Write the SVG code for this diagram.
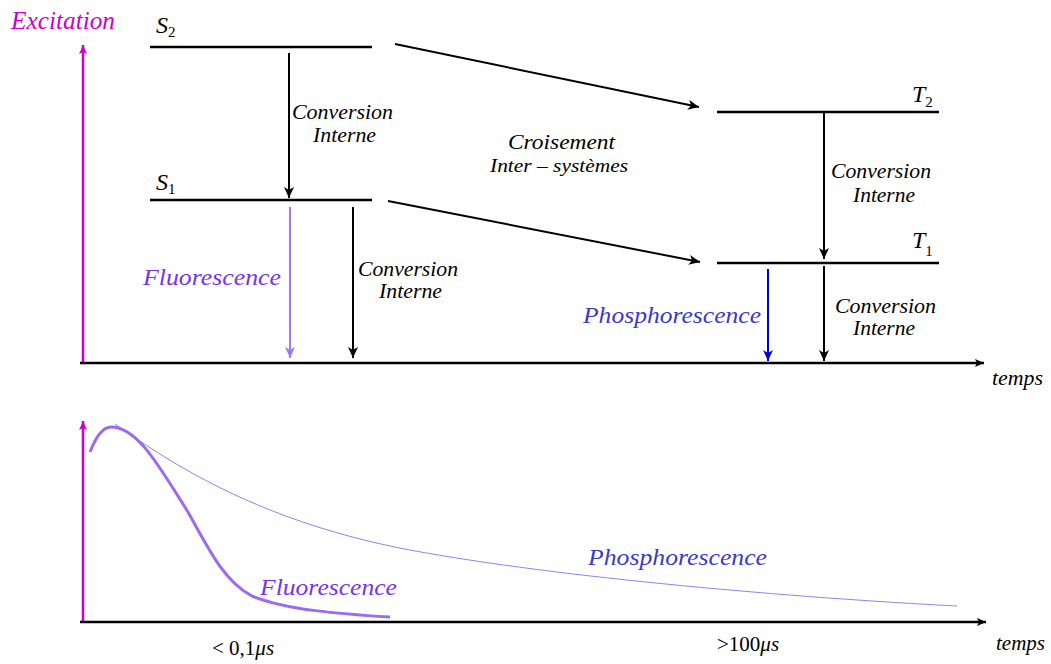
<svg xmlns="http://www.w3.org/2000/svg" width="1051" height="664" viewBox="0 0 1051 664" font-family="'Liberation Serif', Tinos, 'Times New Roman', 'DejaVu Serif', serif">
<style>
text{font-family:"Liberation Serif",Tinos,"Times New Roman","DejaVu Serif",serif;font-style:italic;fill:#000}
.lbl{font-size:20px}
.up{font-style:normal}
.lvl{stroke:#000;stroke-width:2.5;fill:none}
.ar{stroke:#000;stroke-width:2;fill:none;marker-end:url(#ah)}
.mag{stroke:#cc00cc;stroke-width:2.5;fill:none;marker-end:url(#am)}
.ax{stroke:#000;stroke-width:2.5;fill:none;marker-end:url(#ax)}
</style>
<defs>
<marker id="ah" markerUnits="userSpaceOnUse" markerWidth="12" markerHeight="10" refX="11" refY="5" orient="auto" viewBox="0 0 12 10"><path d="M0,0 L11,5 L0,10 L3,5 z" fill="#000"/></marker>
<marker id="af" markerUnits="userSpaceOnUse" markerWidth="12" markerHeight="10" refX="11" refY="5" orient="auto" viewBox="0 0 12 10"><path d="M0,0 L11,5 L0,10 L3,5 z" fill="#9f77ff"/></marker>
<marker id="ab" markerUnits="userSpaceOnUse" markerWidth="12" markerHeight="10" refX="11" refY="5" orient="auto" viewBox="0 0 12 10"><path d="M0,0 L11,5 L0,10 L3,5 z" fill="#0000dd"/></marker>
<marker id="am" markerUnits="userSpaceOnUse" markerWidth="10" markerHeight="8" refX="9" refY="4" orient="auto" viewBox="0 0 10 8"><path d="M0,0 L9,4 L0,8 L2,4 z" fill="#cc00cc"/></marker>
<marker id="ax" markerUnits="userSpaceOnUse" markerWidth="10" markerHeight="8" refX="9" refY="4" orient="auto" viewBox="0 0 10 8"><path d="M0,0 L9,4 L0,8 L2,4 z" fill="#000"/></marker>
</defs>

<g id="axes-top">
<line class="mag" x1="83" y1="362" x2="83" y2="45"/>
<line class="ax" x1="80" y1="363" x2="984" y2="363"/>
<text x="11" y="29" font-size="25" style="fill:#cc00cc" textLength="104" lengthAdjust="spacingAndGlyphs">Excitation</text>
<text x="992" y="385" font-size="20" textLength="51" lengthAdjust="spacingAndGlyphs">temps</text>
</g>

<g id="S2">
<line class="lvl" x1="150" y1="47" x2="372" y2="47"/>
<text x="156" y="33" font-size="24">S<tspan class="up" font-size="15" dy="4">2</tspan></text>
</g>
<g id="S1">
<line class="lvl" x1="150" y1="200" x2="372" y2="200"/>
<text x="156" y="190" font-size="24">S<tspan class="up" font-size="15" dy="4">1</tspan></text>
</g>
<g id="T2">
<line class="lvl" x1="717" y1="112" x2="939" y2="112"/>
<text x="912" y="102" font-size="24">T<tspan class="up" font-size="15" dy="5">2</tspan></text>
</g>
<g id="T1">
<line class="lvl" x1="717" y1="263" x2="939" y2="263"/>
<text x="912" y="248" font-size="24">T<tspan class="up" font-size="15" dy="8">1</tspan></text>
</g>

<g id="connectors">
<line class="ar" x1="289" y1="53" x2="289" y2="198"/>
<line x1="290" y1="207" x2="290" y2="358" stroke="#9f77ff" stroke-width="2" marker-end="url(#af)"/>
<line class="ar" x1="353" y1="207" x2="353" y2="358"/>
<line class="ar" x1="395" y1="44" x2="699" y2="107"/>
<line class="ar" x1="388" y1="201" x2="700" y2="262"/>
<line class="ar" x1="824" y1="112" x2="824" y2="259"/>
<line x1="768" y1="269" x2="768" y2="361" stroke="#0000dd" stroke-width="2" marker-end="url(#ab)"/>
<line class="ar" x1="824" y1="266" x2="824" y2="361"/>
</g>

<g id="labels-top">
<text class="lbl" x="292" y="119" textLength="101" lengthAdjust="spacingAndGlyphs">Conversion</text>
<text class="lbl" x="313" y="142" textLength="63" lengthAdjust="spacingAndGlyphs">Interne</text>
<text class="lbl" x="358" y="276" textLength="100" lengthAdjust="spacingAndGlyphs">Conversion</text>
<text class="lbl" x="379" y="298" textLength="63" lengthAdjust="spacingAndGlyphs">Interne</text>
<text class="lbl" x="831" y="178" textLength="100" lengthAdjust="spacingAndGlyphs">Conversion</text>
<text class="lbl" x="853" y="202" textLength="62" lengthAdjust="spacingAndGlyphs">Interne</text>
<text class="lbl" x="835" y="313" textLength="101" lengthAdjust="spacingAndGlyphs">Conversion</text>
<text class="lbl" x="853" y="335" textLength="62" lengthAdjust="spacingAndGlyphs">Interne</text>
<text x="508" y="149" font-size="22" textLength="107" lengthAdjust="spacingAndGlyphs">Croisement</text>
<text x="490" y="172" font-size="19" textLength="138" lengthAdjust="spacingAndGlyphs">Inter – systèmes</text>
<text x="143" y="285" font-size="24" style="fill:#7733ee" textLength="138" lengthAdjust="spacingAndGlyphs">Fluorescence</text>
<text x="583" y="323" font-size="24" style="fill:#3a3acc" textLength="178" lengthAdjust="spacingAndGlyphs">Phosphorescence</text>
</g>

<g id="axes-bottom">
<line class="mag" x1="83" y1="623" x2="83" y2="421"/>
<line class="ax" x1="80" y1="622" x2="986" y2="622"/>
<text x="996" y="650" font-size="20" textLength="49" lengthAdjust="spacingAndGlyphs">temps</text>
<text x="212" y="655" font-size="21"><tspan class="up">&lt; 0,1</tspan>μs</text>
<text x="717" y="651" font-size="21"><tspan class="up">&gt;100</tspan>μs</text>
</g>

<g id="curves">
<path d="M115,424 C160,455 250,520 410,550 C560,578 800,598 957,606" fill="none" stroke="#8888ee" stroke-width="1"/>
<path d="M90,452 C97,434 104,427 111,427 C138,427 160,468 188,512 C210,552 225,582 252,596 C287,610 340,614 390,617" fill="none" stroke="#9a6af0" stroke-width="3"/>
<text x="260" y="595" font-size="24" style="fill:#7733ee" textLength="137" lengthAdjust="spacingAndGlyphs">Fluorescence</text>
<text x="588" y="565" font-size="24" style="fill:#3a3acc" textLength="179" lengthAdjust="spacingAndGlyphs">Phosphorescence</text>
</g>
</svg>
